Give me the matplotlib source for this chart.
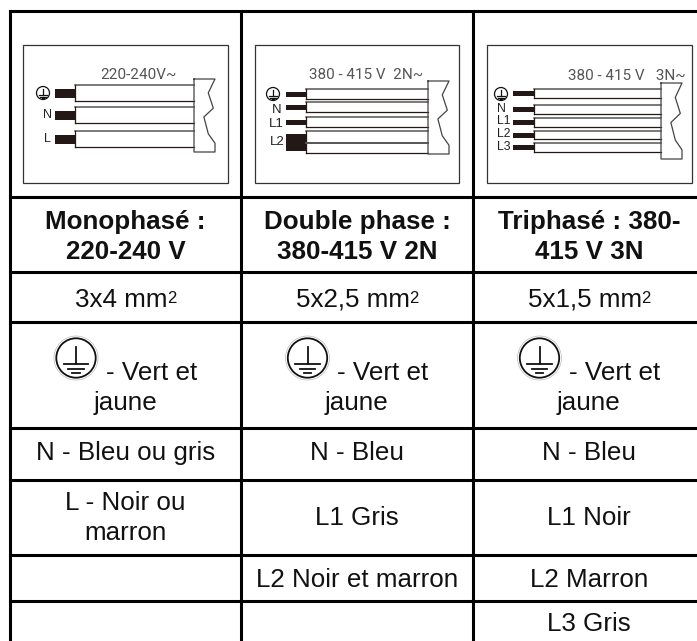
"""Cable table with wiring diagrams, drawn on one pixel-sized axes."""
from __future__ import annotations

import matplotlib
matplotlib.use("Agg")
import matplotlib.pyplot as plt
from matplotlib.patches import Circle, Rectangle

W, H = 697, 641
plt.rcParams["font.family"] = ["Liberation Sans", "DejaVu Sans"]

# table text
headers = ["Monophasé :\n220-240 V", "Double phase :\n380-415 V 2N", "Triphasé : 380-\n415 V 3N"]
sections = ["3x4 mm", "5x2,5 mm", "5x1,5 mm"]
neutral = ["N - Bleu ou gris", "N - Bleu", "N - Bleu"]
line1 = ["L - Noir ou\nmarron", "L1 Gris", "L1 Noir"]
line2 = ["", "L2 Noir et marron", "L2 Marron"]
line3 = ["", "", "L3 Gris"]

# diagram text
voltages = ["220-240V~", "380 - 415 V  2N~", "380 - 415 V   3N~"]
labels_mono = ["N", "L"]
labels_double = ["N", "L1", "L2"]
labels_tri = ["N", "L1", "L2", "L3"]

col_x = [9.5, 241, 473]
row_y = [10.5, 197, 272, 322, 428, 480, 555, 601]
mids = [125.5, 357, 589]
INK = "#111111"
FS = 18.7


def earth_symbol(ax, x, y, r, lw=1.0):
    ax.add_patch(Circle((x, y), r, fill=False, ec=INK, lw=lw))
    ax.plot([x, x], [y - r * 0.55, y + r * 0.3], color=INK, lw=lw)
    for half, dy in [(0.62, 0.3), (0.4, 0.55), (0.2, 0.75)]:
        ax.plot([x - r * half, x + r * half], [y + r * dy] * 2, color=INK, lw=lw)


def wire(ax, x0, x1, x2, y0, y1, th):
    # stripped core then sheath running to the cable end
    ax.add_patch(Rectangle((x0, (y0 + y1) / 2 - th / 2), x1 - x0, th, fc="#231815", ec="none"))
    ax.plot([x1, x2], [y0, y0], color="#555555", lw=1.1)
    ax.plot([x1, x2], [y1, y1], color="#231815", lw=0.9)
    ax.plot([x1, x1], [y0, y1], color="#231815", lw=0.9)


def cable_end(ax, x, top, bottom, w):
    h = bottom - top
    xs = [x, x + w, x + w * 0.68, x + w * 0.92, x + w * 0.47, x + w * 0.68, x + w, x + w, x, x]
    ys = [top, top, top + h * 0.19, top + h * 0.4, top + h * 0.52, top + h * 0.75,
          top + h * 0.88, bottom, bottom, top]
    ax.plot(xs, ys, color="#444444", lw=0.9)


def diagram(ax, box, volt, volt_x, volt_y, wires, end):
    ax.add_patch(Rectangle((box[0], box[1]), box[2] - box[0], box[3] - box[1],
                           fill=False, ec="#333333", lw=0.9))
    ax.text(volt_x, volt_y, volt, ha="left", va="center", fontsize=11, color="#555555",
            family=["Roboto", "DejaVu Sans"])
    for w in wires:
        wire(ax, *w)
    cable_end(ax, *end)


def main() -> int:
    fig = plt.figure(figsize=(W / 100, H / 100), dpi=100)
    ax = fig.add_axes([0, 0, 1, 1])
    ax.set_xlim(0, W)
    ax.set_ylim(H, 0)
    ax.axis("off")

    # grid runs off the right and bottom edge of the picture
    for x in col_x:
        ax.plot([x, x], [row_y[0], H + 5], color="black", lw=2.2, solid_capstyle="projecting")
    for y in row_y:
        ax.plot([col_x[0], W + 5], [y, y], color="black", lw=2.2, solid_capstyle="projecting")

    # mono diagram
    diagram(ax, (23, 45, 228, 183), voltages[0], 100, 75,
            [(55, 75, 194, 85, 101, 9), (55, 75, 194, 107, 123, 9), (55, 75, 194, 131, 147, 9)],
            (194, 79, 152, 21))
    earth_symbol(ax, 43, 93, 6.5, 0.9)
    for lab, x, y in zip(labels_mono, [48, 47], [115, 139]):
        ax.text(x, y, lab, ha="center", va="center", fontsize=9, color="#222222")

    # double phase diagram
    diagram(ax, (255, 45, 459, 183), voltages[1], 309, 75,
            [(286, 306, 428, 89, 99, 5), (286, 306, 428, 102, 112, 5), (286, 306, 428, 117, 127, 5),
             (286, 306, 428, 131, 153, 17)],
            (428, 81, 154, 21))
    ax.plot([306, 428], [143, 143], color="#555555", lw=1.4)
    earth_symbol(ax, 273, 94, 6.5, 0.9)
    for lab, x, y in zip(labels_double, [277, 276, 277], [110, 124, 142]):
        ax.text(x, y, lab, ha="center", va="center", fontsize=9.5, color="#222222")

    # three phase diagram
    diagram(ax, (487, 45, 692, 183), voltages[2], 568, 76,
            [(513, 534, 661, 89, 98, 5), (513, 534, 661, 105, 114, 5), (513, 534, 661, 118, 127, 5),
             (513, 534, 661, 131, 139, 5), (513, 534, 661, 143, 152, 5)],
            (661, 83, 159, 21))
    earth_symbol(ax, 501, 94, 6.5, 0.9)
    for lab, x, y in zip(labels_tri, [501, 504, 504, 504], [109, 121.5, 134, 147]):
        ax.text(x, y, lab, ha="center", va="center", fontsize=8.8, color="#222222")

    renderer = fig.canvas.get_renderer()
    for i, cx in enumerate(mids):
        ax.text(cx, 237, headers[i], ha="center", va="center", fontsize=FS, fontweight="bold",
                linespacing=1.35, color=INK)

        # section with a small superscript placed after the measured base text
        base = ax.text(cx - 4, 307, sections[i], ha="center", va="baseline", fontsize=FS, color=INK)
        right = base.get_window_extent(renderer).x1
        ax.text(right - 0.5, 303, "2", ha="left", va="baseline", fontsize=12, color=INK)

        ax.text(cx + 26, 373, "- Vert et", ha="center", va="center", fontsize=FS, color=INK)
        ax.text(cx, 403, "jaune", ha="center", va="center", fontsize=FS, color=INK)
        earth_symbol(ax, cx - 49.5, 358, 19.7, 1.3)
        ax.add_patch(Circle((cx - 49.5, 358), 22, fill=False, ec="#bbbbbb", lw=0.5))

        ax.text(cx, 453, neutral[i], ha="center", va="center", fontsize=FS, color=INK)
        ax.text(cx, 518, line1[i], ha="center", va="center", fontsize=FS, linespacing=1.35, color=INK)
        ax.text(cx, 580, line2[i], ha="center", va="center", fontsize=FS, color=INK)
        ax.text(cx, 624, line3[i], ha="center", va="center", fontsize=FS, color=INK)

    fig.savefig("out.png", dpi=100)
    plt.close(fig)
    return 0


if __name__ == "__main__":
    raise SystemExit(main())
